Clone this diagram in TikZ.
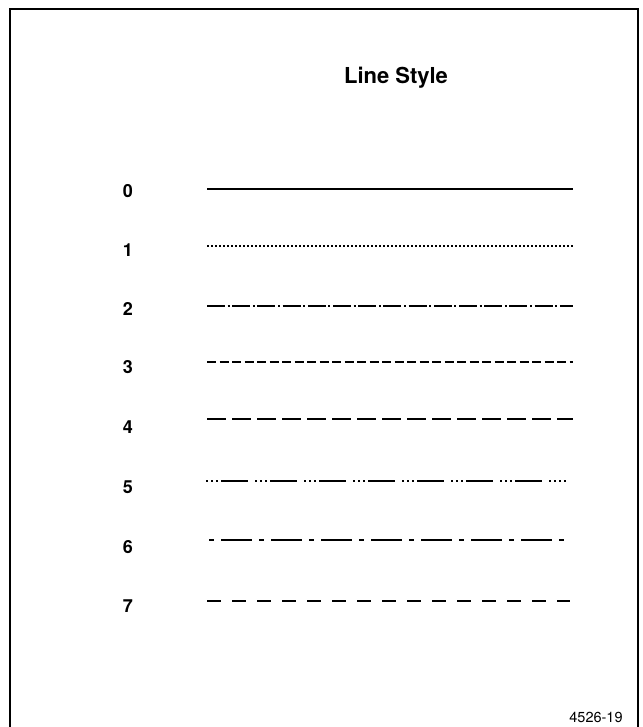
\documentclass[tikz,border=0pt]{standalone}
\usepackage{fontspec}
\setmainfont{TeX Gyre Heros}
\usetikzlibrary{positioning}
\tikzset{
    num/.style={font=\fontsize{18}{18}\selectfont\bfseries, anchor=base, inner sep=0},
    title/.style={font=\fontsize{22}{22}\selectfont\bfseries, anchor=base, inner sep=0},
    figno/.style={font=\fontsize{14.5}{14.5}\selectfont, anchor=base, inner sep=0},
    frame/.style={line width=1.6pt},
    sample/.style={line width=1.8pt},
}

\begin{document}
\begin{tikzpicture}[x=1pt, y=-1pt]
    \useasboundingbox (0,0) rectangle (642,727);
    \draw[frame] (10,727) -- (10,9) -- (638,9) -- (638,727);

    \node[title] (head) at (396,84) {Line Style};
    \node[figno] (fig) at (596,722) {4526-19};

    % numbers and the start/end of each sample line
    \node[num] (n0) at (128,198) {0};
    \node[num] (n1) at (128,256) {1};
    \node[num] (n2) at (128,315) {2};
    \node[num] (n3) at (128,373) {3};
    \node[num] (n4) at (128,433) {4};
    \node[num] (n5) at (128,493) {5};
    \node[num] (n6) at (128,553) {6};
    \node[num] (n7) at (128,612) {7};

    \coordinate (a0) at (207,189);  \coordinate (b0) at (573,189);
    \coordinate (a1) at (207,246);  \coordinate (b1) at (573,246);
    \coordinate (a2) at (207,306);  \coordinate (b2) at (573,306);
    \coordinate (a3) at (207,362);  \coordinate (b3) at (573,362);
    \coordinate (a4) at (207,419);  \coordinate (b4) at (573,419);
    \coordinate (a5) at (206,481);  \coordinate (b5) at (566,481);
    \coordinate (a6) at (209,540);  \coordinate (b6) at (566,540);
    \coordinate (a7) at (207,601);  \coordinate (b7) at (570,601);

    \draw[sample] (a0) -- (b0);
    \draw[sample, dash pattern=on 1.6pt off 2.4pt] (a1) -- (b1);
    \draw[sample, dash pattern=on 18pt off 2.6pt on 2pt off 2.6pt] (a2) -- (b2);
    \draw[sample, dash pattern=on 9pt off 3.5pt] (a3) -- (b3);
    \draw[sample, dash pattern=on 19pt off 6pt] (a4) -- (b4);
    \draw[sample, dash pattern=on 2pt off 3pt on 2pt off 3pt on 2pt off 3pt on 27pt off 7pt] (a5) -- (b5);
    \draw[sample, dash pattern=on 5pt off 7pt on 31pt off 7pt] (a6) -- (b6);
    \draw[sample, dash pattern=on 14pt off 11pt] (a7) -- (b7);
\end{tikzpicture}
\end{document}
